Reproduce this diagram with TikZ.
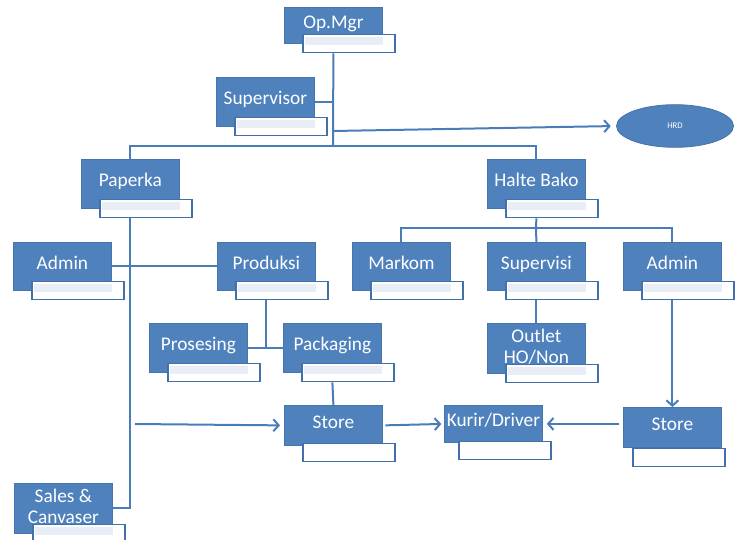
\documentclass[tikz,border=0pt]{standalone}
\usepackage{fontspec}
\setmainfont{Carlito}
\usetikzlibrary{arrows.meta,shapes.geometric}

\definecolor{unitblue}{RGB}{79,129,189}
\definecolor{unitedge}{RGB}{70,116,172}
\definecolor{tagedge}{RGB}{66,112,170}
\definecolor{tagtint}{RGB}{233,238,246}
\definecolor{lineblue}{RGB}{74,124,184}

\begin{document}
\begin{tikzpicture}[x=0.75pt,y=-0.75pt,
    unit/.style={anchor=north west, fill=unitblue, draw=unitedge, line width=0.6pt,
      text=white, minimum width=73.5pt, minimum height=36pt, inner sep=0pt,
      text height=10pt, text depth=5.5pt, font=\fontsize{14.5}{15.75}\selectfont},
    twoline/.style={text height=, text depth=},
    plaintag/.style={anchor=north west, fill=white, draw=tagedge, line width=1.2pt,
      minimum width=69pt, minimum height=13.5pt, inner sep=0pt},
    tag/.style={plaintag, path picture={
        \fill[tagtint] ([shift={(1.5pt,-1.5pt)}]path picture bounding box.north west)
          rectangle ([shift={(-9pt,6pt)}]path picture bounding box.south east);}},
    link/.style={draw=lineblue, line width=1.5pt},
    flow/.style={link, -{Straight Barb[length=4pt,width=9pt]}}
  ]
  \useasboundingbox (0,0) rectangle (735,539);

  % top
  \node[unit, minimum height=27pt] (opmgr) at (284,7) {Op.Mgr};
  \node[tag] (opmgr-t) at ([xshift=13.5pt,yshift=7.5pt]opmgr.south west) {};
  \node[unit, minimum height=36.75pt] (supervisor) at (216,77) {Supervisor};
  \node[tag] (supervisor-t) at ([xshift=13.5pt,yshift=7.5pt]supervisor.south west) {};
  \node[ellipse, fill=unitblue, draw=unitedge, line width=0.6pt, text=white,
    minimum width=87.75pt, minimum height=32pt, font=\fontsize{6.5}{8}\selectfont]
    (hrd) at (675,126) {HRD};

  % paperka side
  \node[unit, minimum height=36.75pt] (paperka) at (81,159) {Paperka};
  \node[tag] (paperka-t) at ([xshift=13.5pt,yshift=7.5pt]paperka.south west) {};
  \node[unit] (admin1) at (13,242) {Admin};
  \node[tag] (admin1-t) at ([xshift=13.5pt,yshift=7.5pt]admin1.south west) {};
  \node[unit] (produksi) at (217,242) {Produksi};
  \node[tag] (produksi-t) at ([xshift=13.5pt,yshift=7.5pt]produksi.south west) {};
  \node[unit, minimum height=36.75pt] (prosesing) at (149,323) {Prosesing};
  \node[tag] (prosesing-t) at ([xshift=13.5pt,yshift=7.5pt]prosesing.south west) {};
  \node[unit, minimum height=36.75pt] (packaging) at (283,323) {Packaging};
  \node[tag] (packaging-t) at ([xshift=13.5pt,yshift=7.5pt]packaging.south west) {};
  \node[unit, minimum height=30pt] (store1) at (284,405) {Store};
  \node[plaintag] (store1-t) at ([xshift=13.5pt,yshift=2.25pt]store1.south west) {};
  \node[unit, twoline, minimum height=37.5pt] (sales) at (14,483)
    {\begin{tabular}{@{}c@{}}Sales \&\\Canvaser\end{tabular}};
  \node[tag] (sales-t) at ([xshift=13.5pt,yshift=7.5pt]sales.south west) {};

  % halte bako side
  \node[unit, minimum height=36.75pt] (halte) at (487,159) {Halte Bako};
  \node[tag] (halte-t) at ([xshift=13.5pt,yshift=7.5pt]halte.south west) {};
  \node[unit] (markom) at (352,242) {Markom};
  \node[tag] (markom-t) at ([xshift=13.5pt,yshift=7.5pt]markom.south west) {};
  \node[unit] (supervisi) at (487,242) {Supervisi};
  \node[tag] (supervisi-t) at ([xshift=13.5pt,yshift=7.5pt]supervisi.south west) {};
  \node[unit] (admin2) at (623,242) {Admin};
  \node[tag] (admin2-t) at ([xshift=13.5pt,yshift=7.5pt]admin2.south west) {};
  \node[unit, twoline, minimum height=37.5pt] (outlet) at (487,323)
    {\begin{tabular}{@{}c@{}}Outlet\\HO/Non\end{tabular}};
  \node[tag] (outlet-t) at ([xshift=13.5pt,yshift=7.5pt]outlet.south west) {};
  \node[unit, minimum height=27.75pt] (kurir) at (444,405) {Kurir/Driver};
  \node[plaintag] (kurir-t) at ([xshift=10.5pt,yshift=1.5pt]kurir.south west) {};
  \node[unit, minimum height=30pt] (store2) at (623,407) {Store};
  \node[plaintag] (store2-t) at ([xshift=6.75pt]store2.south west) {};

  % lines
  \coordinate (topbus) at (333,146);
  \coordinate (hrdfork) at (333,131);
  \coordinate (midbus) at (536,228);
  \coordinate (feed) at (135,424);

  \draw[link] (opmgr.south |- opmgr-t.south) -- (topbus);
  \draw[link] (supervisor.east) -- (supervisor.east -| topbus);
  \draw[flow, shorten >=4pt] (hrdfork) -- (hrd.west);
  \draw[link] (paperka.north) |- (topbus) -| (halte.north);

  \draw[link] (paperka.south |- paperka-t.south) |- (sales.east);
  \draw[link] (admin1.east) -- (produksi.west);
  \draw[link] (produksi.south |- produksi-t.south) -- (produksi.south |- prosesing.east);
  \draw[link] (prosesing.east) -- (packaging.west);
  \draw[link] (packaging.south |- packaging-t.south) -- (store1.north);
  \draw[flow, shorten >=3pt] (feed) -- (store1.west);
  \draw[flow, shorten <=2pt, shorten >=2pt] (store1.east) -- (kurir.west);

  \draw[link] (halte.south |- halte-t.south) -- (midbus);
  \draw[link] (markom.north) |- (midbus) -| (admin2.north);
  \draw[link] (midbus) -- (supervisi.north);
  \draw[link] (supervisi.south |- supervisi-t.south) -- (outlet.north);
  \draw[flow] (admin2.south |- admin2-t.south) -- (store2.north);
  \draw[flow, shorten <=3pt, shorten >=3pt] (store2.west |- kurir.east) -- (kurir.east);
\end{tikzpicture}
\end{document}
